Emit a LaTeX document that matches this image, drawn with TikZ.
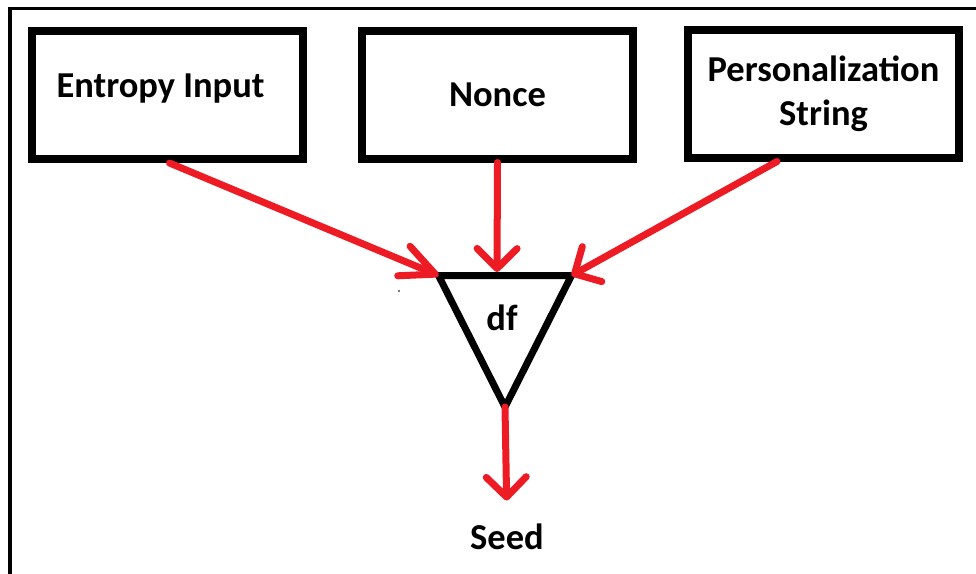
\documentclass[tikz,border=0pt]{standalone}
\usepackage{fontspec}
\setmainfont{Carlito}
\usetikzlibrary{arrows.meta,calc}
\definecolor{flowred}{RGB}{237,28,36}

\begin{document}
\begin{tikzpicture}[x=1pt,y=-1pt,
  txt/.style={font=\fontsize{36.5}{44}\selectfont\bfseries},
  box/.style={txt, draw=black, line width=8pt, rectangle, inner sep=0pt,
    align=center, minimum width=271pt, minimum height=128pt},
  flow/.style={draw=flowred, line width=7pt, line cap=round,
    -{Straight Barb[length=20pt,width=40pt,round]}},
  longflow/.style={flow, -{Straight Barb[length=34pt,width=32pt,round]}},
  tri/.style={draw=black, line width=7pt, line join=round}
]
\useasboundingbox (0,0) rectangle (976,573);

% frame along the top and left edges
\draw[line width=3.5pt] (10,580) -- (10,8.5) -- (980,8.5);

% input boxes
\node[box] (ent) at (167.5,95)
  {\raisebox{6pt}[\height][\depth]{Entropy Input}\kern14pt};
\node[box] (non) at (497.5,94.5) {Nonce};
\node[box] (pers) at (823.5,93.5) {Personalization\\String};

% derivation function triangle
\coordinate (dfL) at (438.5,275.5);
\coordinate (dfR) at (571.5,275.5);
\coordinate (dfB) at (505,407);
\coordinate (dfT) at (497,272);
\draw[tri] (dfL) -- (dfR) -- (dfB) -- cycle;
\node[txt] (df) at (502,318) {df};

% output
\node[txt] (seed) at (507,537) {Seed};

% connectors
\draw[longflow] ([xshift=2pt]ent.south) -- (dfL);
\draw[flow] (non.south) -- (dfT);
\draw[flow] ([xshift=-46.5pt]pers.south) -- (dfR);
\draw[flow, shorten >=20pt] (dfB) -- (seed.north);

% stray speck
\fill[black!70] (399,291) circle (1.2pt);
\end{tikzpicture}
\end{document}
